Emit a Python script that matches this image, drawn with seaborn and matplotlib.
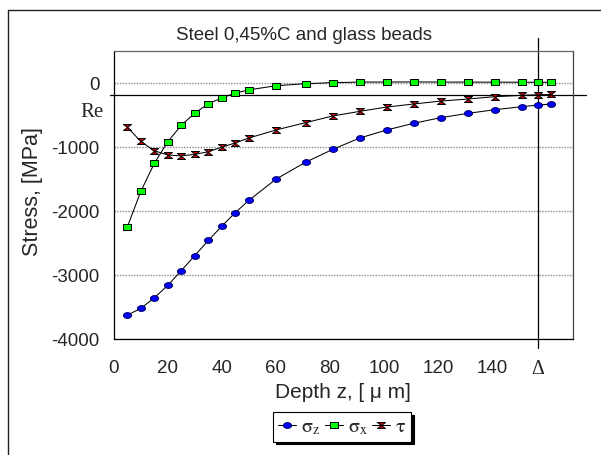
import numpy as np
import pandas as pd
import matplotlib
matplotlib.use("Agg")
import matplotlib.pyplot as plt
import seaborn as sns
from matplotlib.lines import Line2D

# ---------------- data ----------------
depth = [5, 10, 15, 20, 25, 30, 35, 40, 45, 50, 60, 71, 81, 91, 101, 111, 121, 131, 141, 151, 157, 162]
sigma_z = [-3620, -3515, -3350, -3155, -2925, -2690, -2455, -2230, -2020, -1830, -1500, -1235,
           -1035, -858, -732, -628, -540, -473, -416, -369, -343, -327]
sigma_x = [-2245, -1690, -1252, -914, -657, -470, -322, -231, -156, -106, -42, -10,
           6, 15, 16, 18, 15, 15, 14, 13, 12, 12]
tau = [-688, -911, -1057, -1121, -1137, -1111, -1072, -1000, -934, -857, -732, -618,
       -514, -442, -374, -327, -281, -249, -213, -192, -182, -177]

series_names = ["sigma_z", "sigma_x", "tau"]
legend_labels = [r"$\mathrm{\sigma}_{\mathrm{z}}$", r"$\mathrm{\sigma}_{\mathrm{x}}$", r"$\mathrm{\tau}$"]
title = "Steel 0,45%C and glass beads"
xlabel = "Depth z, [ \u03bc m]"
ylabel = "Stress, [MPa]"
x_ticks = [0, 20, 40, 60, 80, 100, 120, 140]
x_tick_labels = ["0", "20", "40", "60", "80", "100", "120", "140"]
delta_depth = 157
delta_label = "\u0394"
re_stress = -190
re_label = "Re"
y_ticks = [-4000, -3000, -2000, -1000, 0]
y_tick_labels = ["-4000", "-3000", "-2000", "-1000", "0"]

df = pd.DataFrame({"depth": depth, "sigma_z": sigma_z, "sigma_x": sigma_x, "tau": tau})

# ---------------- style ----------------
sns.set_style("white")
plt.rcParams["font.family"] = ["Liberation Sans", "DejaVu Sans"]
plt.rcParams["mathtext.fontset"] = "stix"

fig = plt.figure(figsize=(6.01, 4.55), dpi=100)
ax = fig.add_axes([0.18935, 0.25385, 0.76406, 0.63407])

t = np.linspace(0, 2 * np.pi, 41)
ellipse = list(zip(np.cos(t), 0.72 * np.sin(t)))
square = [(-1, -0.75), (1, -0.75), (1, 0.75), (-1, 0.75), (-1, -0.75)]
hourglass = [(-1, 0.75), (1, 0.75), (-1, -0.75), (1, -0.75), (-1, 0.75)]

styles = {
    "sigma_z": (ellipse, "#0000ff", "#000060"),
    "sigma_x": (square, "#00ff00", "#000000"),
    "tau": (hourglass, "#cc0000", "#000000"),
}

handles = []
for name in series_names:
    mk, fc, ec = styles[name]
    sns.lineplot(data=df, x="depth", y=name, ax=ax, color="black", lw=0.75,
                 marker=mk, ms=5.8, markerfacecolor=fc, markeredgecolor=ec,
                 markeredgewidth=0.7, errorbar=None, legend=False)
    handles.append(ax.lines[-1])

ax.set_xlim(0, 170)
ax.set_ylim(-4000, 500)

ax.set_xticks(x_ticks + [delta_depth], labels=x_tick_labels + [delta_label])
ax.set_xticks(np.arange(0, 171, 10), minor=True)
ax.set_yticks(y_ticks, labels=y_tick_labels)
ax.set_yticks(np.arange(-4000, 501, 500), minor=True)

ax.tick_params(axis="both", which="both", direction="inout", length=7, width=0.8,
               color="black", labelsize=13.5)
ax.tick_params(axis="x", which="both", pad=11)
ax.tick_params(axis="y", which="both", pad=6.8)
for lbl in ax.get_xticklabels():
    if lbl.get_text() == delta_label:
        lbl.set_fontfamily("Liberation Serif")
        lbl.set_fontsize(14.5)

ax.yaxis.grid(True, which="major", color="#888888", linestyle=(0, (1, 1)), lw=1.0)
ax.xaxis.grid(False)

for s in ["left", "bottom"]:
    ax.spines[s].set_color("black")
    ax.spines[s].set_linewidth(0.9)
ax.spines["top"].set_color("#666666")
ax.spines["right"].set_color("#444444")
for s in ["top", "right"]:
    ax.spines[s].set_linewidth(0.9)

# Re line and delta line
ax.axhline(re_stress, xmin=-0.008, xmax=1.028, color="black", lw=0.9, clip_on=False, zorder=1)
ax.axvline(delta_depth, ymin=-0.03, ymax=1.045, color="black", lw=0.9, clip_on=False, zorder=1)

ax.set_xlabel(xlabel, fontsize=15, va="baseline")
ax.xaxis.set_label_coords(0.5, -0.204)
ax.set_ylabel(ylabel, fontsize=15.5, va="center")
ax.yaxis.set_label_coords(-0.176, 0.513)

fig.text(0.505, 1 - 40.5 / 455, title, ha="center", va="baseline", fontsize=13.5)
fig.text(103.3 / 601, 1 - 116.7 / 455, re_label, ha="right", va="baseline",
         family="Liberation Serif", fontsize=15)

leg = fig.legend(handles, legend_labels, loc="center", bbox_to_anchor=(0.569, 0.062),
                 ncol=3, fontsize=14.5, handlelength=0.9, handletextpad=0.25,
                 columnspacing=0.2, borderpad=0.25, frameon=True, fancybox=False,
                 edgecolor="black", framealpha=1,
                 shadow={"color": "black", "alpha": 1})
leg.get_frame().set_linewidth(0.8)

# outer frame (left and top)
fig.add_artist(Line2D([7.5 / 601, 7.5 / 601], [0, 1 - 10 / 455], transform=fig.transFigure,
                      color="#222222", lw=1))
fig.add_artist(Line2D([7.5 / 601, 1], [1 - 10 / 455, 1 - 10 / 455], transform=fig.transFigure,
                      color="#222222", lw=1))

fig.savefig("out.png", dpi=100)
